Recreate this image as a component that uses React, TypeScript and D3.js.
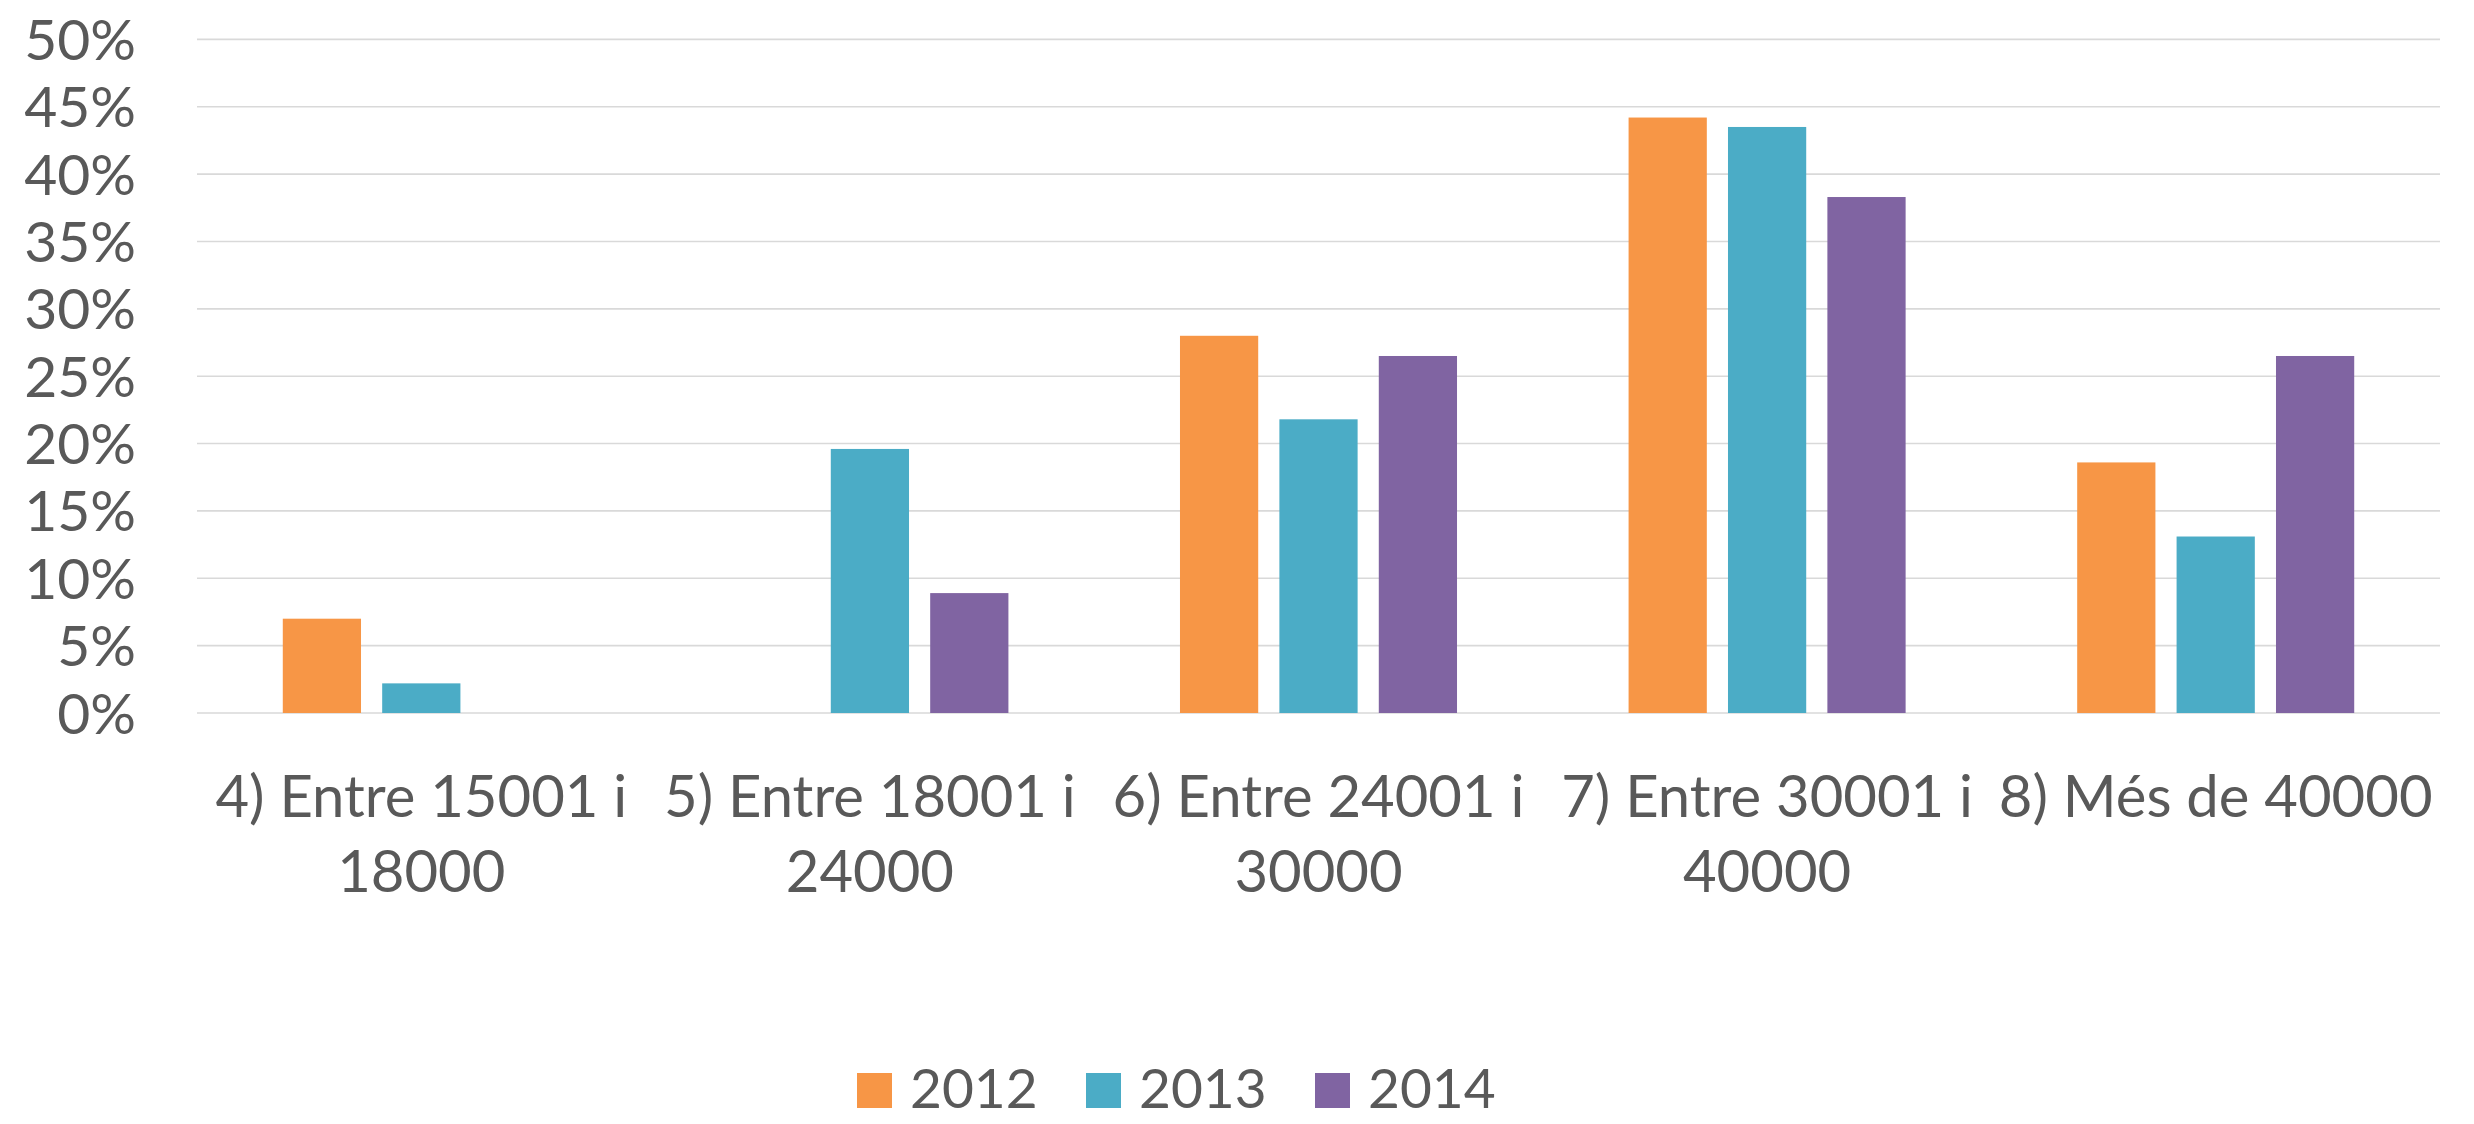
import React from "react";
import * as d3 from "d3";

const categories: string[][] = [
  ["4) Entre 15001 i", "18000"],
  ["5) Entre 18001 i", "24000"],
  ["6) Entre 24001 i", "30000"],
  ["7) Entre 30001 i", "40000"],
  ["8) Més de 40000"],
];
const seriesNames = ["2012", "2013", "2014"];
const values2012: (number | null)[] = [7.0, null, 28.0, 44.2, 18.6];
const values2013: (number | null)[] = [2.2, 19.6, 21.8, 43.5, 13.1];
const values2014: (number | null)[] = [null, 8.9, 26.5, 38.3, 26.5];
const colors = ["#F79646", "#4BACC6", "#8064A2"];
const yTicks = [0, 5, 10, 15, 20, 25, 30, 35, 40, 45, 50];

const W = 2474;
const H = 1124;
const FONT = "Lato, 'Open Sans', sans-serif";
const TEXT = "#595959";

export default function App() {
  const left = 197;
  const right = 2440;
  const top = 39.4;
  const bottom = 713;
  const series = [values2012, values2013, values2014];
  const catKeys = categories.map((c) => c.join(" "));

  const x0 = d3.scaleBand<string>().domain(catKeys).range([left, right]).padding(0);
  const x1 = d3
    .scaleBand<string>()
    .domain(seriesNames)
    .range([0, x0.bandwidth()])
    .paddingInner(0.213)
    .paddingOuter(0.863);
  const y = d3.scaleLinear().domain([0, 50]).range([bottom, top]);

  return (
    <svg
      width={W}
      height={H}
      style={{ position: "absolute", left: 0, top: 0, background: "#fff" }}
    >
      <rect x={0} y={0} width={W} height={H} fill="#fff" />
      {yTicks.map((t) => (
        <g key={t}>
          <line x1={left} x2={right} y1={y(t)} y2={y(t)} stroke="#d9d9d9" strokeWidth={1.6} />
          <text
            x={136}
            y={y(t)}
            dy="0.36em"
            textAnchor="end"
            fontFamily={FONT}
            fontSize={57}
            fill={TEXT}
          >
            {t}%
          </text>
        </g>
      ))}
      {series.map((vals, si) =>
        vals.map((v, ci) =>
          v == null ? null : (
            <rect
              key={`${si}-${ci}`}
              x={(x0(catKeys[ci]) as number) + (x1(seriesNames[si]) as number)}
              y={y(v)}
              width={x1.bandwidth()}
              height={y(0) - y(v)}
              fill={colors[si]}
            />
          )
        )
      )}
      {categories.map((lines, ci) => {
        const cx = (x0(catKeys[ci]) as number) + x0.bandwidth() / 2;
        return (
          <text
            key={ci}
            textAnchor="middle"
            fontFamily={FONT}
            fontSize={58}
            fill={TEXT}
          >
            {lines.map((l, li) => (
              <tspan key={li} x={cx} y={817 + li * 75}>
                {l}
              </tspan>
            ))}
          </text>
        );
      })}
      {seriesNames.map((s, si) => {
        const lx = 857 + si * 229;
        return (
          <g key={s}>
            <rect x={lx} y={1073} width={35} height={35} fill={colors[si]} />
            <text x={lx + 53} y={1108} fontFamily={FONT} fontSize={55} fill={TEXT}>
              {s}
            </text>
          </g>
        );
      })}
    </svg>
  );
}
